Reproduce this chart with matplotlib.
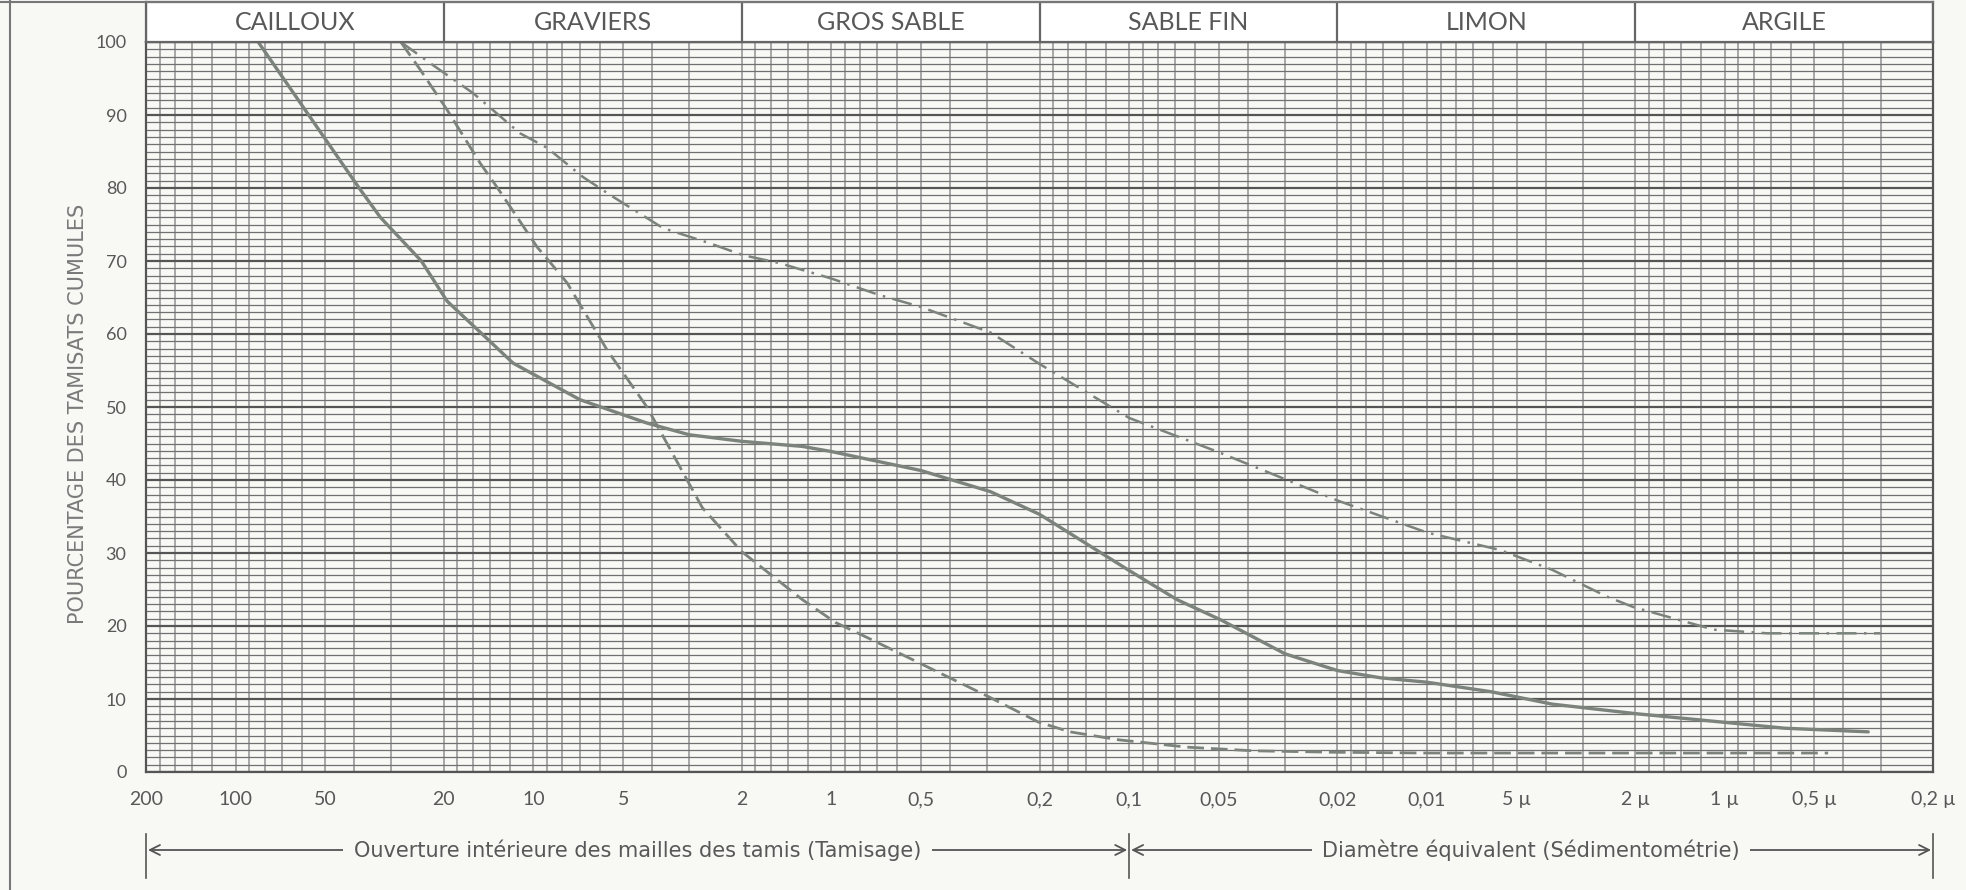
import numpy as np
import matplotlib.pyplot as plt
from matplotlib.lines import Line2D
from matplotlib.transforms import blended_transform_factory

# classes granulométriques (bornes en mm)
classes = ['CAILLOUX', 'GRAVIERS', 'GROS SABLE', 'SABLE FIN', 'LIMON', 'ARGILE']
bornes = [200, 20, 2, 0.2, 0.02, 0.002, 0.0002]

tick_vals = [200, 100, 50, 20, 10, 5, 2, 1, 0.5, 0.2, 0.1, 0.05, 0.02, 0.01,
             0.005, 0.002, 0.001, 0.0005, 0.0002]
tick_labels = ['200', '100', '50', '20', '10', '5', '2', '1', '0,5', '0,2', '0,1',
               '0,05', '0,02', '0,01', '5 µ', '2 µ', '1 µ', '0,5 µ', '0,2 µ']

# courbe 1 : trait plein
d1 = [84, 38.5, 32.7, 23.8, 19.5, 11.7, 6.98, 4.16, 3.0, 2.0, 1.25, 1.0, 0.5, 0.292,
      0.2, 0.1, 0.069, 0.049, 0.03, 0.02, 0.0143, 0.01, 0.0061, 0.0038, 0.002,
      0.001, 0.00063, 0.00033]
p1 = [100, 80, 76, 70, 64.5, 56, 51, 47.8, 46.2, 45.3, 44.6, 43.9, 41.3, 38.4,
      35.3, 27.6, 23.6, 20.8, 16.2, 13.9, 12.9, 12.3, 11.0, 9.3, 8.0,
      6.8, 6.0, 5.5]

# courbe 2 : tirets
d2 = [27.9, 24.0, 19.5, 15.1, 13.2, 10.8, 9.72, 8.87, 7.71, 5.66, 4.16, 2.71, 2.0,
      1.25, 0.97, 0.73, 0.476, 0.296, 0.202, 0.158, 0.108, 0.0638, 0.0381, 0.02,
      0.01, 0.001, 0.00045]
p2 = [100, 96.2, 90.7, 83.4, 80, 74.7, 71.9, 70, 67, 57.8, 50, 36.2, 30.2,
      23.6, 20.5, 18.1, 14.4, 10.3, 6.85, 5.5, 4.4, 3.4, 2.9, 2.7,
      2.6, 2.6, 2.6]

# courbe 3 : tirets-points
d3 = [27.9, 21.7, 15.96, 11.1, 9.0, 6.82, 5.41, 3.67, 2.59, 1.98, 1.49, 1.0, 0.697,
      0.5, 0.292, 0.2, 0.1, 0.05, 0.02, 0.01, 0.00567, 0.0038, 0.00248, 0.00203,
      0.00109, 0.00072, 0.00044, 0.0003]
p3 = [100, 96.8, 93, 87.5, 85.5, 81.5, 78.8, 74.5, 72.5, 70.8, 69.7, 67.6, 65.4,
      63.7, 60.2, 55.9, 48.5, 43.8, 37.2, 32.8, 30.4, 27.7, 24, 22.6,
      19.5, 19, 19, 19]

bg = '#f8f8f5'
ink = '#585858'
curve = '#7c837c'

fig = plt.figure(figsize=(19.66, 8.9), dpi=100, facecolor=bg)
W, H = 1966, 890
ax = fig.add_axes([146 / W, (H - 772) / H, (1933 - 146) / W, (772 - 42) / H])
ax.set_facecolor(bg)
ax.set_xscale('log')
ax.set_xlim(200, 0.0002)
ax.set_ylim(0, 100)

# papier semi-log
mant = [1, 1.2, 1.4, 1.6, 1.8, 2, 3, 4, 5, 6, 7, 8, 9]
for e in range(-4, 3):
    for m in mant:
        v = m * 10.0 ** e
        if 0.0002 <= v <= 200:
            ax.axvline(v, color='#9a9a9a', lw=1.2, zorder=1)
for p in range(0, 101):
    if p % 10 == 0:
        ax.axhline(p, color='#555555', lw=1.6, zorder=1)
    else:
        ax.axhline(p, color='#707070', lw=0.9, zorder=1)

ax.plot(d1, p1, color=curve, lw=2.4, solid_capstyle='round', zorder=3)
ax.plot(d2, p2, color=curve, lw=2.0, dashes=(6, 2.5), zorder=3)
ax.plot(d3, p3, color=curve, lw=1.8, dashes=(8, 3, 1, 3), zorder=3)

ax.set_xticks(tick_vals)
ax.set_xticklabels(tick_labels, fontsize=14, color=ink, family='Lato')
ax.xaxis.set_minor_locator(plt.NullLocator())
ax.set_yticks(range(0, 101, 10))
ax.set_yticklabels([str(v) for v in range(0, 101, 10)], fontsize=13, color=ink, family='Lato')
ax.tick_params(length=0, pad=14)
for s in ax.spines.values():
    s.set_color('#555555')
    s.set_linewidth(1.6)

# bandeau des classes
hx = fig.add_axes([146 / W, (H - 42) / H, (1933 - 146) / W, 40 / H], sharex=ax)
hx.set_facecolor('white')
hx.set_ylim(0, 1)
hx.tick_params(left=False, bottom=False, labelleft=False, labelbottom=False)
for s in hx.spines.values():
    s.set_color('#666666')
    s.set_linewidth(1.6)
for b in bornes:
    hx.axvline(b, color='#666666', lw=1.6)
for i, c in enumerate(classes):
    xm = np.sqrt(bornes[i] * bornes[i + 1])
    hx.text(xm, 0.5, c, ha='center', va='center', fontsize=18, color=ink, family='Lato')

fig.text(78 / W, 1 - 414 / H, 'POURCENTAGE DES TAMISATS CUMULES', rotation=90,
         ha='center', va='center', fontsize=15, color='#7a7a7a')

# cadre du document
fig.add_artist(Line2D([10 / W, 10 / W], [0, 1], color='#777777', lw=1.5))
fig.add_artist(Line2D([0, 1933 / W], [1 - 1.5 / H, 1 - 1.5 / H], color='#777777', lw=1.5))

# flèches du bas
tr = blended_transform_factory(ax.transData, fig.transFigure)
ya = 1 - 850 / H
for v in [200, 0.1, 0.0002]:
    ax.add_line(Line2D([v, v], [1 - 834 / H, 1 - 878 / H], transform=tr, color='#555555',
                       lw=1.2, clip_on=False))
arr = dict(arrowstyle='->', color='#555555', lw=1.3, shrinkA=0, shrinkB=0,
           mutation_scale=18)
spans = [(200, 0.1, 'Ouverture intérieure des mailles des tamis (Tamisage)'),
         (0.1, 0.0002, 'Diamètre équivalent (Sédimentométrie)')]
for a, b, lab in spans:
    xm = np.sqrt(a * b)
    ax.annotate('', xy=(a * 0.985, ya), xytext=(xm, ya), xycoords=tr, textcoords=tr,
                arrowprops=arr, annotation_clip=False)
    ax.annotate('', xy=(b * 1.015, ya), xytext=(xm, ya), xycoords=tr, textcoords=tr,
                arrowprops=arr, annotation_clip=False)
    ax.text(xm, ya, lab, transform=tr, ha='center', va='center', fontsize=15, color=ink,
            bbox=dict(boxstyle='square,pad=0.5', fc=bg, ec='none'), zorder=5)

fig.savefig('out.png', dpi=100, facecolor=bg)
